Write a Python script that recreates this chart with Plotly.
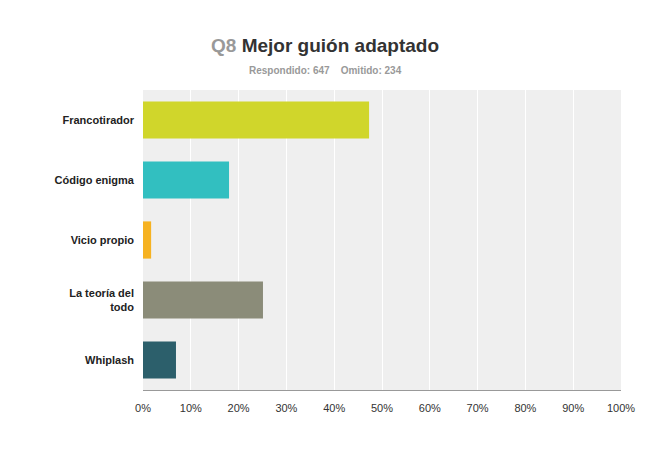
import plotly.graph_objects as go

categories = ["Francotirador", "Código enigma", "Vicio propio", "La teoría del<br>todo", "Whiplash"]
values = [47.3, 18.0, 1.7, 25.1, 6.9]
colors = ["#d0d62b", "#32bfc0", "#f6b221", "#8b8c79", "#2c5f6b"]
tick_vals = [0, 10, 20, 30, 40, 50, 60, 70, 80, 90, 100]
tick_text = ["0%", "10%", "20%", "30%", "40%", "50%", "60%", "70%", "80%", "90%", "100%"]

W, H = 650, 463
L, R, T, B = 135, 37, 82, 81
fig = go.Figure(go.Bar(
    y=categories, x=values, orientation="h",
    marker=dict(color=colors, line=dict(width=0)), width=0.62,
))
ph = H - T - B
pw = W - L - R
fig.update_layout(
    width=W, height=H,
    margin=dict(l=L, r=R, t=T, b=B),
    paper_bgcolor="white", plot_bgcolor="#efefef",
    font=dict(family="Arial, Liberation Sans, sans-serif", color="#333", size=11),
    showlegend=False,
    xaxis=dict(range=[0, 100], tickvals=tick_vals, ticktext=tick_text,
               showgrid=True, gridcolor="white", gridwidth=1, zeroline=False,
               showline=True, linecolor="#999", ticks="", ticklabelstandoff=8,
               tickfont=dict(size=11, color="#333")),
    yaxis=dict(autorange="reversed", showgrid=False, ticks="", ticklabelstandoff=8,
               tickfont=dict(size=11, color="#222", weight="bold")),
    annotations=[
        dict(text="<span style='color:#999'>Q8</span> Mejor guión adaptado",
             x=(317 - L) / pw, xref="paper", y=(H - B - 25) / ph, yref="paper",
             showarrow=False, font=dict(size=19, color="#333", weight="bold")),
        dict(text="Respondido: 647&nbsp;&nbsp;&nbsp;&nbsp;Omitido: 234",
             x=(317 - L) / pw, xref="paper", y=(H - B - 55) / ph, yref="paper",
             showarrow=False, font=dict(size=10, color="#999", weight="bold")),
    ],
)
fig.write_html("out.html")
